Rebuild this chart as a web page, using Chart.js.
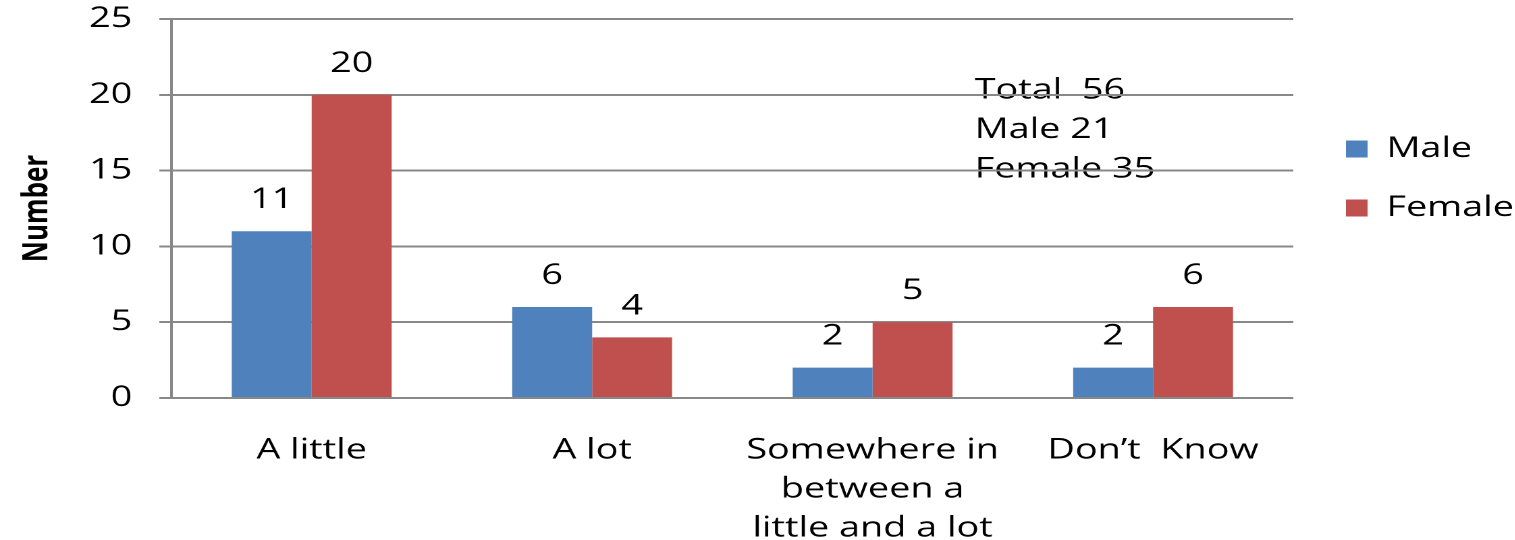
<!DOCTYPE html>
<html>
<head>
<meta charset="utf-8">
<script src="https://cdn.jsdelivr.net/npm/chart.js@4"></script>
<style>
  html, body { margin: 0; padding: 0; background: #fff; overflow: hidden; }
  #wrap { width: 1122px; height: 540px; transform: scaleX(1.35); transform-origin: 0 0; }
</style>
</head>
<body>
<div id="wrap"><canvas id="c"></canvas></div>
<script>
const categories = ['A little', 'A lot', ['Somewhere in', 'between a', 'little and a lot'], 'Don\u2019t  Know'];
const seriesNames = ['Male', 'Female'];
const maleValues = [11, 6, 2, 2];
const femaleValues = [20, 4, 5, 6];
const yTicks = [0, 5, 10, 15, 20, 25];
const yTitle = 'Number';
const noteLines = ['Total  56', 'Male 21', 'Female 35'];

const FONT = "'Open Sans', 'DejaVu Sans', sans-serif";
Chart.defaults.font.family = FONT;
Chart.defaults.color = '#000';

const GRID = '#888888';

const dataLabels = {
  id: 'dataLabels',
  afterDatasetsDraw(chart) {
    const ctx = chart.ctx;
    ctx.save();
    ctx.font = '28px ' + FONT;
    ctx.fillStyle = '#000';
    ctx.textAlign = 'center';
    ctx.textBaseline = 'middle';
    chart.data.datasets.forEach((ds, di) => {
      const meta = chart.getDatasetMeta(di);
      meta.data.forEach((el, i) => {
        ctx.fillText(String(ds.data[i]), el.x, el.y - 31);
      });
    });
    ctx.restore();
  }
};

const noteText = {
  id: 'noteText',
  afterLayout(chart) {
    if (chart.legend) {
      chart.legend.left += 8;
      chart.legend.right += 8;
    }
  },
  beforeDraw(chart) {
    const ctx = chart.ctx;
    const a = chart.chartArea;
    ctx.save();
    ctx.font = '28px ' + FONT;
    ctx.fillStyle = '#000';
    ctx.textAlign = 'left';
    ctx.textBaseline = 'middle';
    noteLines.forEach((t, i) => {
      ctx.fillText(t, a.left + 595, a.top + 71.5 + i * 39.5);
    });
    ctx.restore();
  }
};

new Chart(document.getElementById('c'), {
  type: 'bar',
  data: {
    labels: categories,
    datasets: [
      { label: seriesNames[0], data: maleValues, backgroundColor: '#4F81BD' },
      { label: seriesNames[1], data: femaleValues, backgroundColor: '#C0504D' }
    ]
  },
  options: {
    responsive: true,
    maintainAspectRatio: false,
    animation: false,
    devicePixelRatio: 2,
    layout: { padding: { top: 19, left: 0, right: 0, bottom: 0 } },
    datasets: { bar: { categoryPercentage: 0.57, barPercentage: 1.0 } },
    scales: {
      x: {
        grid: { display: false },
        border: { display: false },
        ticks: {
          font: { size: 28, lineHeight: 1.39 },
          color: '#000',
          padding: 25,
          maxRotation: 0,
          autoSkip: false
        },
        afterFit(s) { s.height = 142; }
      },
      y: {
        min: 0,
        max: 25,
        afterBuildTicks(s) { s.ticks = yTicks.map(v => ({ value: v })); },
        grid: { color: GRID, lineWidth: 2, tickLength: 9, drawTicks: true },
        border: { display: true, color: GRID, width: 2 },
        ticks: { font: { size: 28 }, color: '#000', padding: 20 },
        title: {
          display: true,
          text: yTitle,
          font: { size: 26, weight: 'bold' },
          color: '#000',
          padding: { top: 12, bottom: 0 }
        },
        afterFit(s) { s.width = 127; s.paddingTop = 0; }
      }
    },
    plugins: {
      legend: {
        position: 'right',
        align: 'start',
        maxWidth: 164,
        title: { display: true, text: '', font: { size: 10, lineHeight: 1 }, padding: { top: 75, bottom: 0 } },
        labels: {
          boxWidth: 16,
          boxHeight: 17,
          padding: 31,
          color: '#000',
          font: { size: 28 }
        }
      },
      tooltip: { enabled: false }
    }
  },
  plugins: [dataLabels, noteText]
});
</script>
</body>
</html>
